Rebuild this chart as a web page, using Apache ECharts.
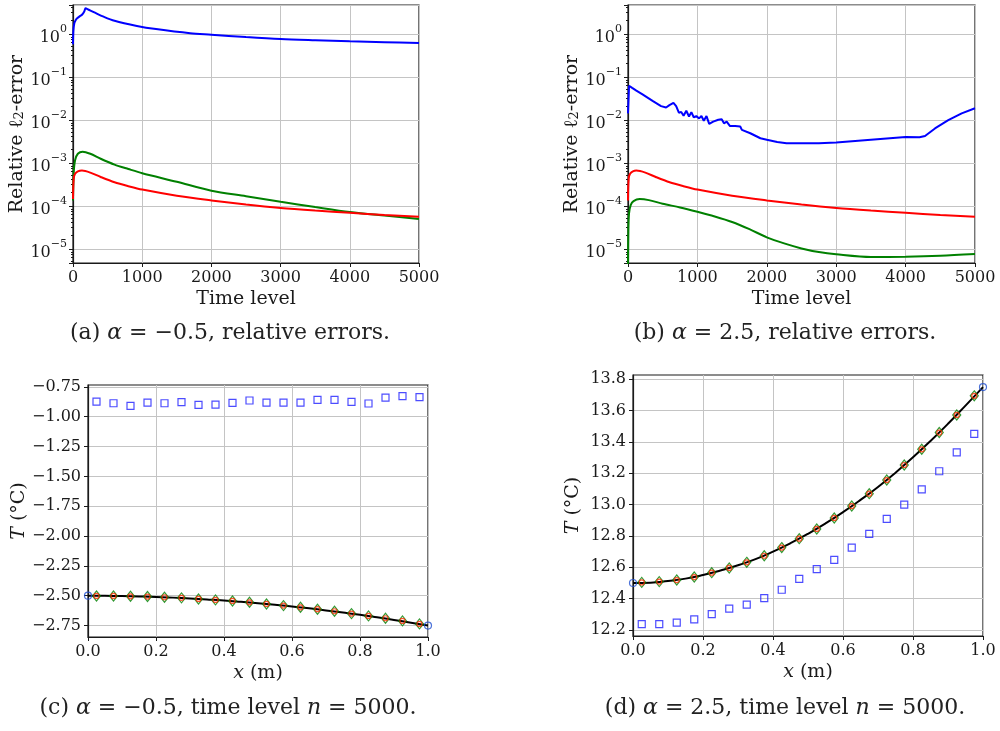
<!DOCTYPE html>
<html>
<head>
<meta charset="utf-8">
<script src="https://cdn.jsdelivr.net/npm/echarts@6/dist/echarts.min.js"></script>
<style>
  html, body { margin: 0; padding: 0; background: #fff; }
  #chart { width: 1000px; height: 731px; }
</style>
</head>
<body>
<div id="chart"></div>
<script>
// ---- (a) alpha = -0.5, relative errors  [time level, error]
const blueA = [[0,0.6],[5,1.2],[19,1.85],[40,2.2],[60,2.4],[100,2.7],[130,2.9],[163,3.45],[182,4.1],[220,3.85],[300,3.35],[442,2.62],[600,2.1],[923,1.6],[1200,1.35],[1693,1.08],[2000,1.0],[2500,0.88],[3000,0.79],[3500,0.74],[4000,0.70],[4500,0.67],[5000,0.64]];
const redA = [[0,1.5e-4],[10,4.5e-4],[30,5.8e-4],[70,6.6e-4],[130,6.9e-4],[250,6.2e-4],[400,4.9e-4],[600,3.7e-4],[800,3.0e-4],[1000,2.5e-4],[1500,1.8e-4],[2000,1.4e-4],[2500,1.12e-4],[3000,9.3e-5],[3500,8.1e-5],[4000,7.2e-5],[4500,6.4e-5],[5000,5.85e-5]];
const greenA = [[0,1.4e-4],[10,6e-4],[30,1.2e-3],[70,1.7e-3],[140,1.9e-3],[250,1.7e-3],[400,1.3e-3],[600,9.5e-4],[800,7.5e-4],[1000,6.0e-4],[1500,3.8e-4],[2000,2.35e-4],[2500,1.75e-4],[3000,1.3e-4],[3500,9.8e-5],[4000,7.5e-5],[4500,6.2e-5],[5000,5.2e-5]];

// ---- (b) alpha = 2.5, relative errors
const blueB = [[0,0.0148],[15,0.065],[60,0.058],[120,0.05],[209,0.041],[354,0.029],[476,0.0218],[549,0.0203],[597,0.023],[655,0.026],[694,0.0218],[733,0.0153],[767,0.016],[801,0.013],[840,0.017],[879,0.0125],[913,0.0158],[947,0.012],[985,0.0128],[1024,0.0113],[1058,0.0128],[1092,0.01],[1131,0.0128],[1170,0.0084],[1228,0.0095],[1301,0.0105],[1350,0.0108],[1383,0.0087],[1422,0.0095],[1470,0.0075],[1544,0.0075],[1617,0.0073],[1641,0.0061],[1762,0.0051],[1908,0.0039],[2000,0.0036],[2150,0.0032],[2284,0.003],[2500,0.003],[2750,0.003],[3000,0.0031],[3500,0.0036],[4000,0.0042],[4200,0.0041],[4280,0.0044],[4423,0.0066],[4615,0.0103],[4808,0.0148],[5000,0.0194]];
const redB = [[0,1.4e-4],[10,4.5e-4],[30,5.8e-4],[70,6.6e-4],[120,6.9e-4],[250,6.2e-4],[400,4.9e-4],[600,3.7e-4],[800,3.0e-4],[1000,2.5e-4],[1500,1.8e-4],[2000,1.4e-4],[2500,1.12e-4],[3000,9.3e-5],[3500,8.1e-5],[4000,7.2e-5],[4500,6.4e-5],[5000,5.8e-5]];
const greenB = [[0,4e-6],[5,3e-5],[15,7e-5],[40,1.1e-4],[80,1.35e-4],[168,1.5e-4],[300,1.42e-4],[500,1.17e-4],[750,9.6e-5],[1000,7.6e-5],[1250,5.9e-5],[1500,4.4e-5],[1750,3.0e-5],[2000,1.94e-5],[2250,1.4e-5],[2500,1.07e-5],[2750,8.8e-6],[3000,7.8e-6],[3500,6.75e-6],[4000,6.85e-6],[4500,7.2e-6],[5000,7.9e-6]];

// ---- (c), (d) temperature profiles at time level 5000
const xNodes = [0.025,0.075,0.125,0.175,0.225,0.275,0.325,0.375,0.425,0.475,0.525,0.575,0.625,0.675,0.725,0.775,0.825,0.875,0.925,0.975];
const xLine = [0,0.05,0.1,0.15,0.2,0.25,0.3,0.35,0.4,0.45,0.5,0.55,0.6,0.65,0.7,0.75,0.8,0.85,0.9,0.95,1.0];
const xEnds = [0, 1];

const squaresC = [-0.873,-0.887,-0.909,-0.881,-0.887,-0.878,-0.901,-0.898,-0.884,-0.864,-0.881,-0.881,-0.881,-0.859,-0.859,-0.876,-0.889,-0.839,-0.828,-0.836];
const nodesC = [-2.502,-2.502,-2.505,-2.507,-2.513,-2.518,-2.527,-2.535,-2.544,-2.555,-2.569,-2.583,-2.597,-2.613,-2.630,-2.650,-2.669,-2.689,-2.711,-2.736];
const exactC = [-2.500,-2.501,-2.503,-2.506,-2.510,-2.516,-2.523,-2.531,-2.540,-2.551,-2.563,-2.576,-2.590,-2.606,-2.623,-2.641,-2.660,-2.681,-2.703,-2.726,-2.750];
const endsC = [-2.5, -2.75];

const squaresD = [12.238,12.238,12.247,12.268,12.302,12.336,12.362,12.404,12.457,12.526,12.589,12.647,12.726,12.813,12.909,13.000,13.098,13.213,13.334,13.451];
const nodesD = [12.504,12.509,12.519,12.538,12.566,12.596,12.632,12.674,12.726,12.783,12.845,12.915,12.991,13.070,13.157,13.253,13.353,13.460,13.572,13.694];
const exactD = [12.500,12.502,12.513,12.528,12.551,12.580,12.613,12.652,12.700,12.754,12.814,12.880,12.952,13.030,13.113,13.204,13.302,13.406,13.516,13.632,13.750];
const endsD = [12.5, 13.75];

const ticksC = [-2.75,-2.5,-2.25,-2.0,-1.75,-1.5,-1.25,-1.0,-0.75];
const ticksD = [12.2,12.4,12.6,12.8,13.0,13.2,13.4,13.6,13.8];

const captions = [
  '(a) {i|α} = −0.5, relative errors.',
  '(b) {i|α} = 2.5, relative errors.',
  '(c) {i|α} = −0.5, time level {i|n} = 5000.',
  '(d) {i|α} = 2.5, time level {i|n} = 5000.'
];

const zip = (xs, ys) => xs.map((x, i) => [x, ys[i]]);
const minus = s => String(s).replace('-', '−');

const FONT = 'DejaVu Serif';
const INK = '#1a1a1a';

function baseAxis(extra) {
  const ax = {
    gridIndex: 0,
    nameLocation: 'middle',
    axisLine: { show: true, onZero: false, lineStyle: { color: INK, width: 1.2 } },
    axisTick: { show: true, length: 4, lineStyle: { color: INK, width: 1 } },
    axisLabel: { color: INK, fontFamily: FONT, fontSize: 16, margin: 7 },
    splitLine: { show: true, lineStyle: { color: '#c4c4c4', width: 1 } },
    nameTextStyle: { color: INK, fontFamily: FONT, fontSize: 19 }
  };
  for (const k in extra) {
    if (typeof extra[k] === 'object' && !Array.isArray(extra[k]) && ax[k]) {
      ax[k] = Object.assign({}, ax[k], extra[k]);
    } else {
      ax[k] = extra[k];
    }
  }
  return ax;
}

const logLabel = v => {
  const e = Math.round(Math.log10(v));
  return '{b|10}{s|' + minus(e) + '}';
};
const logRich = {
  b: { fontFamily: FONT, fontSize: 16, lineHeight: 22, verticalAlign: 'bottom', color: INK },
  s: { fontFamily: FONT, fontSize: 11, lineHeight: 12, verticalAlign: 'top', color: INK }
};
const errName = 'Relative ℓ{sub|2}-error';
const errRich = {
  sub: { fontFamily: FONT, fontSize: 13, verticalAlign: 'bottom', lineHeight: 14, color: INK }
};
const tRich = { i: { fontFamily: FONT, fontSize: 19, fontStyle: 'italic', color: INK } };

function timeAxis(g) {
  return baseAxis({
    gridIndex: g, type: 'value', min: 0, max: 5000, interval: 1000,
    name: 'Time level', nameGap: 27,
    axisLabel: { formatter: v => String(v) }
  });
}
function errAxis(g) {
  return baseAxis({
    gridIndex: g, type: 'log', logBase: 10, min: 4.9e-6, max: 4.9,
    name: errName, nameGap: 45,
    nameTextStyle: { rich: errRich },
    axisLabel: { formatter: logLabel, rich: logRich, showMinLabel: false, showMaxLabel: false, margin: 6 },
    minorTick: { show: true, splitNumber: 8, length: 2, lineStyle: { color: INK } }
  });
}
function posAxis(g) {
  return baseAxis({
    gridIndex: g, type: 'value', min: 0, max: 1, interval: 0.2,
    name: '{i|x} (m)', nameGap: 27,
    nameTextStyle: { rich: tRich },
    axisLabel: { formatter: v => v.toFixed(1) }
  });
}
function tempAxis(g, lo, hi, ticks, gap, digits) {
  return baseAxis({
    gridIndex: g, type: 'value', min: lo, max: hi,
    name: '{i|T} (°C)', nameGap: gap,
    nameTextStyle: { rich: tRich },
    axisTick: { customValues: ticks },
    axisLabel: { customValues: ticks, formatter: v => minus(v.toFixed(digits)) }
  });
}

function errLine(xi, data, color) {
  return {
    type: 'line', xAxisIndex: xi, yAxisIndex: xi, data: data,
    showSymbol: false, smooth: 0.3,
    lineStyle: { color: color, width: 2 }, itemStyle: { color: color }
  };
}
function marker(xi, data, symbol, size, color, z) {
  return {
    type: 'scatter', xAxisIndex: xi, yAxisIndex: xi, data: data,
    symbol: symbol, symbolSize: size, z: z || 3,
    itemStyle: { color: 'rgba(0,0,0,0)', borderColor: color, borderWidth: 1.2 }
  };
}
function exactLine(xi, data) {
  return {
    type: 'line', xAxisIndex: xi, yAxisIndex: xi, data: data,
    showSymbol: false, smooth: true, z: 2,
    lineStyle: { color: '#000', width: 2 }, itemStyle: { color: '#000' }
  };
}

const gridStyle = { show: true, borderColor: INK, borderWidth: 1.2, backgroundColor: 'transparent' };

const option = {
  animation: false,
  backgroundColor: '#fff',
  grid: [
    Object.assign({ left: 73, top: 5, width: 346, height: 258 }, gridStyle),
    Object.assign({ left: 628, top: 5, width: 347, height: 258 }, gridStyle),
    Object.assign({ left: 88, top: 385, width: 340, height: 252 }, gridStyle),
    Object.assign({ left: 633, top: 375, width: 350, height: 261 }, gridStyle)
  ],
  xAxis: [timeAxis(0), timeAxis(1), posAxis(2), posAxis(3)],
  yAxis: [
    errAxis(0), errAxis(1),
    tempAxis(2, -2.846, -0.734, ticksC, 58, 2),
    tempAxis(3, 12.162, 13.827, ticksD, 50, 1)
  ],
  series: [
    errLine(0, blueA, '#0000ff'),
    errLine(0, greenA, '#008000'),
    errLine(0, redA, '#ff0000'),
    Object.assign(errLine(1, blueB, '#0000ff'), { smooth: false }),
    errLine(1, redB, '#ff0000'),
    errLine(1, greenB, '#008000'),

    exactLine(2, zip(xLine, exactC)),
    marker(2, zip(xNodes, squaresC), 'rect', 7, '#1f1fff'),
    marker(2, zip(xNodes, nodesC), 'diamond', [8, 10], '#008000'),
    marker(2, zip(xNodes, nodesC), 'circle', 5, '#ff2a00', 4),
    marker(2, zip(xEnds, endsC), 'circle', 7, '#1f4fd0'),

    exactLine(3, zip(xLine, exactD)),
    marker(3, zip(xNodes, squaresD), 'rect', 7, '#1f1fff'),
    marker(3, zip(xNodes, nodesD), 'diamond', [8, 10], '#008000'),
    marker(3, zip(xNodes, nodesD), 'circle', 5, '#ff2a00', 4),
    marker(3, zip(xEnds, endsD), 'circle', 7, '#1f4fd0')
  ],
  graphic: captions.map((t, i) => ({
    type: 'text',
    x: [230, 785, 228, 785][i],
    y: [333, 333, 708, 708][i],
    style: {
      text: t,
      align: 'center',
      verticalAlign: 'middle',
      fontFamily: FONT,
      fontSize: 22,
      fill: '#222',
      rich: { i: { fontFamily: FONT, fontSize: 22, fontStyle: 'italic', fill: '#222' } }
    }
  }))
};

const chart = echarts.init(document.getElementById('chart'), null, { renderer: 'canvas' });
chart.setOption(option);
</script>
</body>
</html>
